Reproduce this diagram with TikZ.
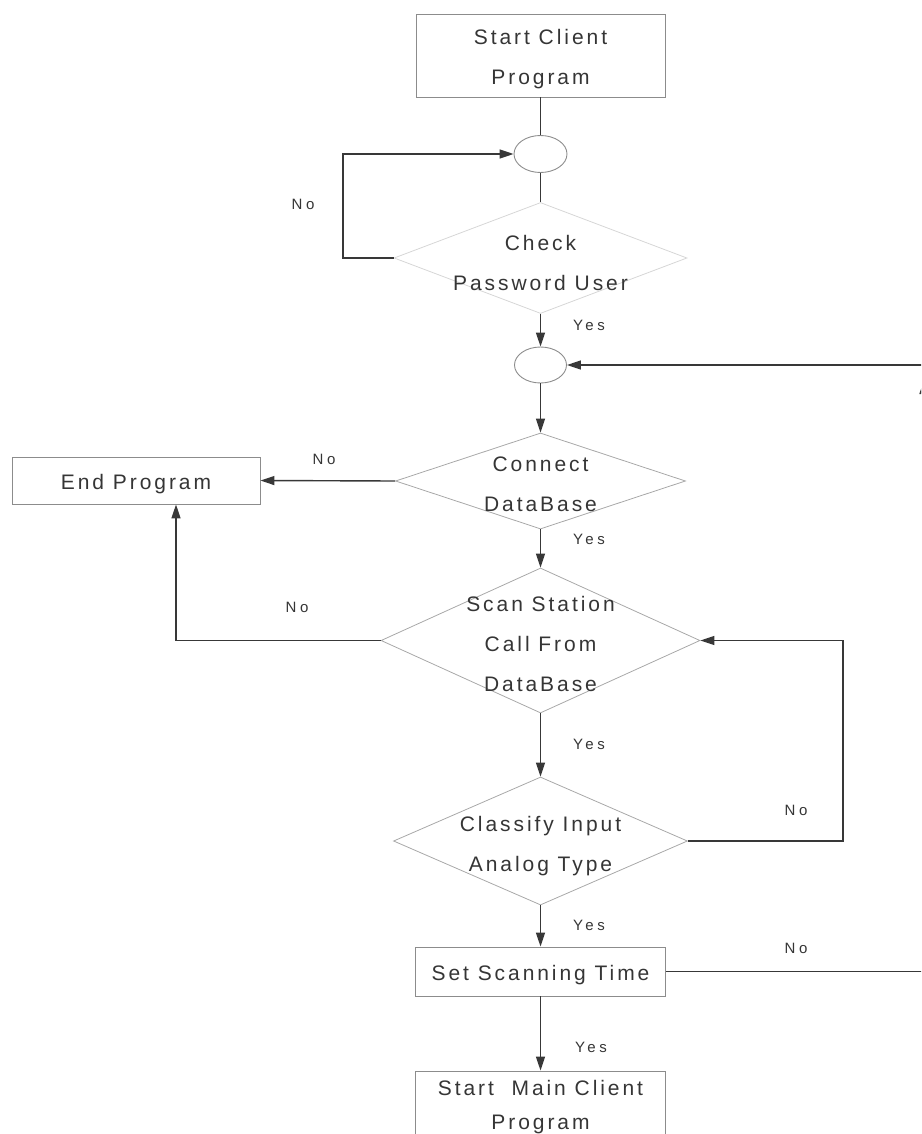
\documentclass[tikz,border=0pt]{standalone}
\usepackage{fontspec}
\setmainfont{Liberation Sans}
\newfontfamily\boxfont[LetterSpace=14]{Liberation Sans}
\newfontfamily\tagfont[LetterSpace=24]{Liberation Sans}
\usetikzlibrary{shapes.geometric,arrows.meta}
\definecolor{ink}{HTML}{353535}
\definecolor{wire}{HTML}{383838}
\definecolor{frame}{HTML}{8C8C8C}
\definecolor{rhomb}{HTML}{A8A8A8}
\definecolor{faint}{HTML}{D6D6D6}
% taller first line pushes a centred caption slightly downwards
\newcommand{\lift}{\rule{0pt}{23pt}}
\begin{document}
\begin{tikzpicture}[x=1pt,y=-1pt,
  txt/.style={text=ink,align=center,inner sep=0,font=\boxfont\fontsize{21}{40}\selectfont},
  procbox/.style={txt,draw=frame,line width=0.9pt,rectangle},
  decision/.style={diamond,draw=rhomb,line width=0.8pt,inner sep=0},
  junction/.style={ellipse,draw=frame,line width=0.9pt,inner sep=0,minimum width=53,minimum height=37},
  tag/.style={text=ink,inner sep=0,font=\tagfont\fontsize{15}{18}\selectfont},
  wire/.style={draw=wire,line width=1.4pt},
  arr/.style={wire,-{Triangle[length=14pt,width=9pt]}}]
\useasboundingbox (0,0) rectangle (921,1134);
\clip (0,0) rectangle (921,1134);

% process boxes
\node[procbox,minimum width=249,minimum height=83] (start) at (540.5,55.5) {\lift Start Client\\Program};
\node[procbox,minimum width=248,minimum height=47] (endp) at (136,480.5) {\lift End Program};
\node[procbox,minimum width=250,minimum height=49] (sst) at (540.5,971.5) {\lift Set Scanning Time};
\node[procbox,minimum width=250,minimum height=72,font=\boxfont\fontsize{21}{34}\selectfont] (smain) at (540.5,1107) {Start~ Main Client\\Program};

% connector junctions
\node[junction] (c1) at (540.5,154) {};
\node[junction,minimum width=52,minimum height=36] (c2) at (540.5,365) {};

% decisions (outline only; captions set on top)
\node[decision,draw=faint,minimum width=293,minimum height=111] (chk) at (540.5,258) {};
\node[decision,minimum width=290,minimum height=96] (conn) at (540.5,481) {};
\node[decision,minimum width=319,minimum height=145] (scan) at (540.5,640.5) {};
\node[decision,minimum width=294,minimum height=128] (cls) at (540.5,841) {};

\node[txt] (chk-t) at (540.5,263) {Check\\Password User};
\node[txt] (conn-t) at (540.5,484) {Connect\\DataBase};
\node[txt] (scan-t) at (540.5,644) {Scan Station\\Call From\\DataBase};
\node[txt] (cls-t) at (540.5,846) {Classify Input\\Analog Type};

% bend points
\coordinate (nl) at (343,0);
\coordinate (el) at (176,0);
\coordinate (rl) at (843,0);
\coordinate (rr) at (924,380);

% flow
\draw[wire] (start.south) -- (c1.north);
\draw[wire] (c1.south) -- (chk.north);
\draw[arr] (chk.west) -| (nl |- c1.west) -- (c1.west);
\draw[arr] (chk.south) -- (c2.north);
\draw[arr] (c2.south) -- (conn.north);
\draw[arr] (conn.west) -- (endp.east);
\draw[arr] (conn.south) -- (scan.north);
\draw[arr] (scan.west) -| (el |- endp.south);
\draw[arr] (scan.south) -- (cls.north);
\draw[arr] (cls.east) -| (rl |- scan.east) -- (scan.east);
\draw[arr] (cls.south) -- (sst.north);
\draw[arr] (sst.east) -| (rr);
\draw[arr] (rr) |- (c2.east);
\draw[arr] (sst.south) -- (smain.north);

% branch labels
\node[tag] (n1) at (303,204) {No};
\node[tag] (y1) at (589,325) {Yes};
\node[tag] (n2) at (324,459) {No};
\node[tag] (y2) at (589,539) {Yes};
\node[tag] (n3) at (297,607) {No};
\node[tag] (y3) at (589,744) {Yes};
\node[tag] (n4) at (796,810) {No};
\node[tag] (y4) at (589,925) {Yes};
\node[tag] (n5) at (796,948) {No};
\node[tag] (y5) at (591,1047) {Yes};
\end{tikzpicture}
\end{document}
